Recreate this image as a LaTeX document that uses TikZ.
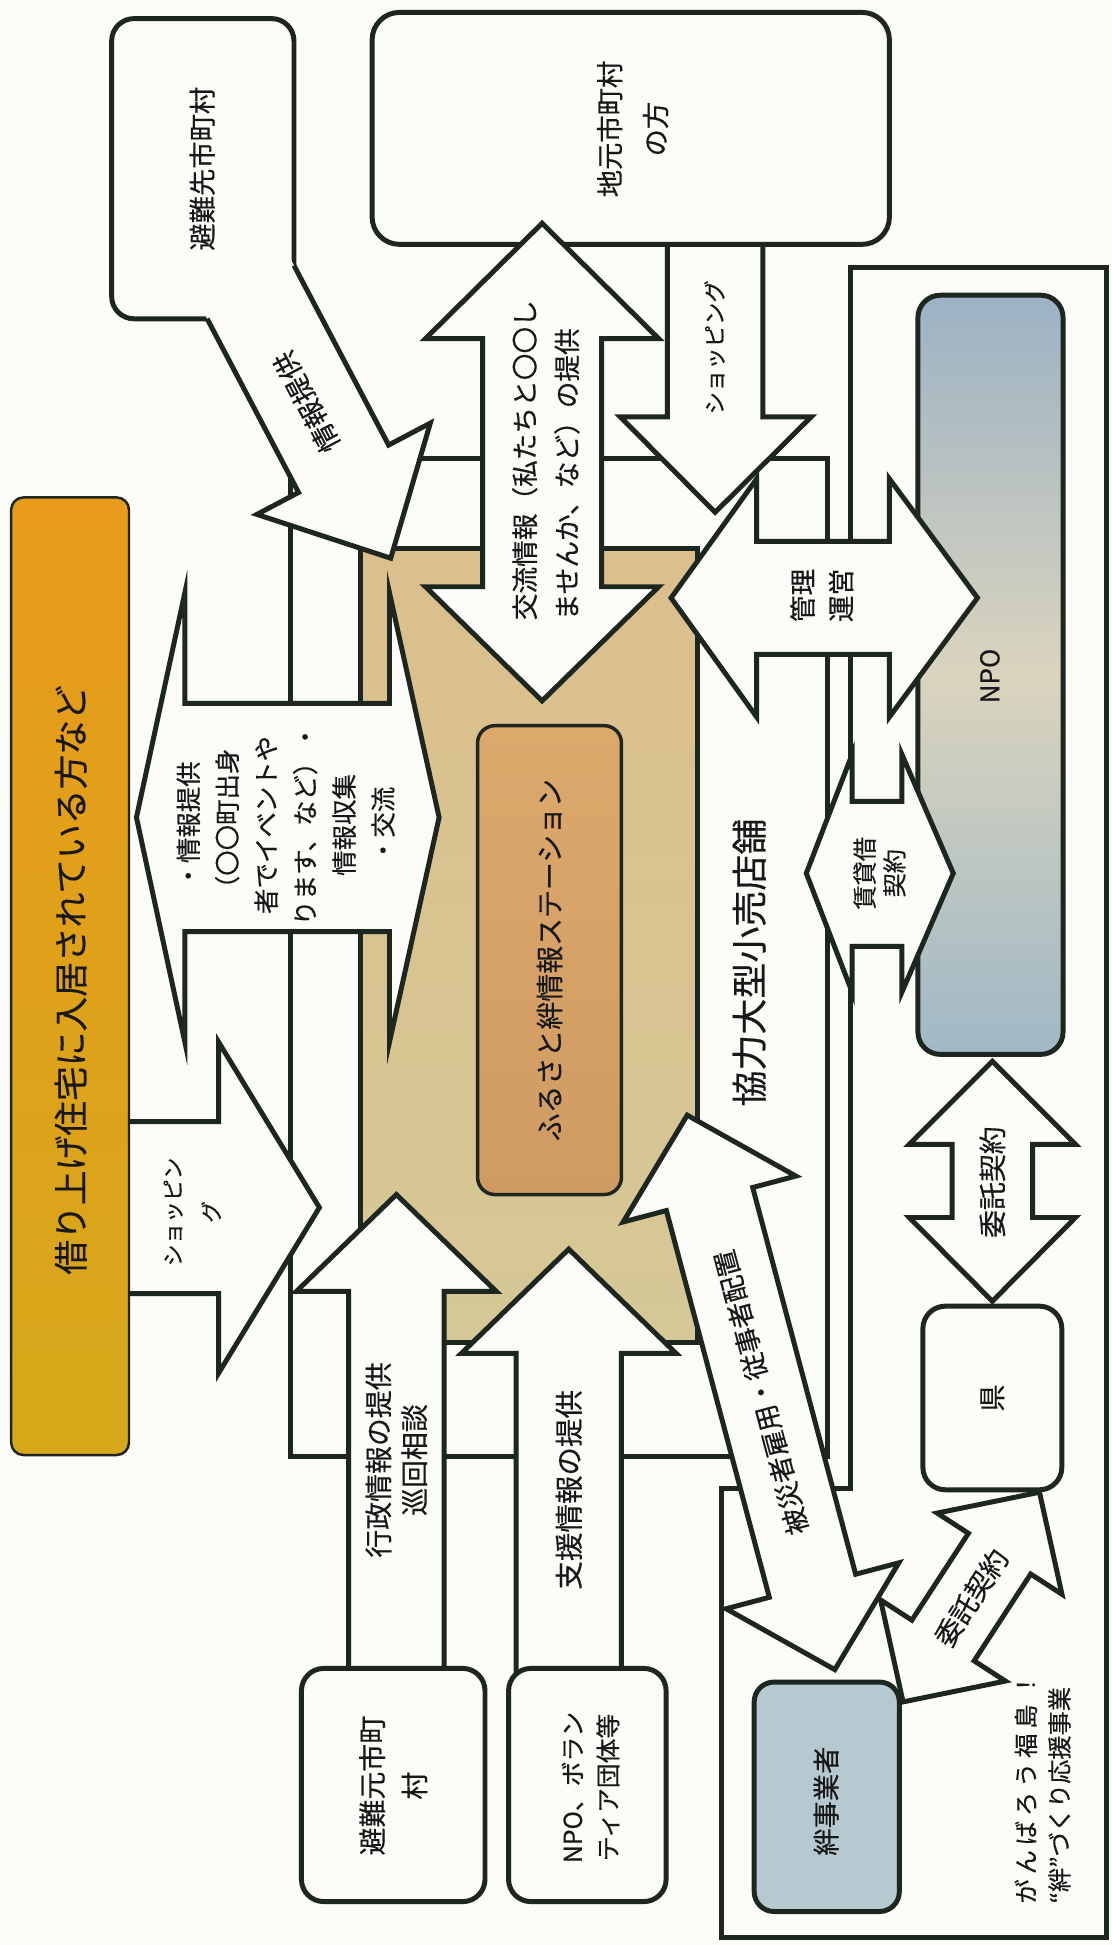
\documentclass[tikz,border=0pt]{standalone}
\usepackage{fontspec}
\setmainfont{Noto Sans CJK JP}[FakeBold=0.4]
\definecolor{lc}{RGB}{30,38,32}
\definecolor{bg}{RGB}{251,251,248}
\definecolor{txt}{RGB}{24,24,24}
\definecolor{orTop}{RGB}{232,154,26}
\definecolor{orBot}{RGB}{214,168,26}
\definecolor{tanTop}{RGB}{219,191,140}
\definecolor{tanBot}{RGB}{213,200,150}
\definecolor{inTop}{RGB}{221,168,108}
\definecolor{inBot}{RGB}{207,155,98}
\definecolor{npoTop}{RGB}{156,178,196}
\definecolor{npoMid}{RGB}{218,212,190}
\definecolor{npoBot}{RGB}{160,184,198}
\definecolor{kzn}{RGB}{182,200,208}
\newcommand\jfs[2]{\fontsize{#1pt}{#2pt}\selectfont}
\begin{document}
\begin{tikzpicture}[x=1pt,y=-1pt,
  shp/.style={fill=bg, draw=lc, line width=4pt, line join=miter},
  edgeline/.style={draw=lc, line width=4pt, line join=miter},
  bx/.style={fill=bg, draw=lc, line width=4pt, rounded corners=18pt},
  lbl/.style={text=txt, inner sep=0pt, align=center},
  rv/.style={rotate=90}]
\useasboundingbox (0,0) rectangle (896,1568);
\fill[bg] (0,0) rectangle (896,1568);

% frame of the support project
\draw[shp] (686,216) -- (892,216) -- (892,1562) -- (582,1562) -- (582,1200) -- (686,1200) -- cycle;
% store
\draw[shp] (234,370) rectangle (667,1174);
% station area
\draw[draw=lc, line width=4pt, top color=tanTop, bottom color=tanBot] (291,442) rectangle (562,1082);
% station inner box
\draw[draw=lc, line width=2.8pt, rounded corners=14pt, top color=inTop, bottom color=inBot] (385,585) rectangle (501,963);

% shopping arrow from residents
\draw[shp] (80,904.2) -- (176.2,904.2) -- (176.2,840) -- (257.5,973.5) -- (176.2,1107) -- (176.2,1042.9) -- (80,1042.9) -- cycle;
% orange box
\draw[draw=lc, line width=2pt, rounded corners=10pt, top color=orTop, bottom color=orBot] (9,401) rectangle (104,1173);

% information double arrow
\draw[shp] (110,659) -- (149,478) -- (149,567) -- (314,567) -- (314,478) -- (354,659) -- (314,840) -- (314,751) -- (149,751) -- (149,840) -- cycle;

% administrative info arrow
\draw[shp] (281,1360) -- (281,1041) -- (239,1041) -- (319.5,963) -- (400,1041) -- (358,1041) -- (358,1360) -- cycle;
% support info arrow
\draw[shp] (416,1360) -- (416,1091) -- (372,1091) -- (458.5,1007) -- (545,1091) -- (501,1091) -- (501,1360) -- cycle;

% bottom boxes
\draw[bx] (243,1345) rectangle (391,1533);
\draw[bx] (410,1345) rectangle (537,1533);

% shopping arrow from local residents
\draw[shp] (538,150) -- (538,336) -- (500,336) -- (576.5,413) -- (654,336) -- (615,336) -- (615,150) -- cycle;
% local residents box
\draw[bx, rounded corners=22pt] (300,10) rectangle (717,197);
% exchange info double arrow
\draw[shp] (437,180) -- (531,273) -- (485,273) -- (485,473) -- (531,473) -- (437,565) -- (343,473) -- (389,473) -- (389,273) -- (343,273) -- cycle;

% evacuation destination box
\draw[bx] (90,15) rectangle (237,257);
% diagonal info arrow
\fill[bg] (163.3,249.9) -- (167,257) -- (240.7,397.0) -- (207.1,414.7) -- (315,450) -- (346.9,341.1) -- (313.3,358.8) -- (237,214) -- (233.3,206.9) -- cycle;
\draw[edgeline] (167,257) -- (240.7,397.0) -- (207.1,414.7) -- (315,450) -- (346.9,341.1) -- (313.3,358.8) -- (237,214);

% NPO, prefecture, kizuna boxes
\draw[draw=lc, line width=4pt, rounded corners=18pt, top color=npoTop, bottom color=npoBot, middle color=npoMid] (740,238) rectangle (857,850);
\draw[bx] (744,1053) rectangle (856,1201);
\draw[draw=lc, line width=4pt, rounded corners=16pt, fill=kzn] (608,1356) rectangle (725,1541);

% management double arrow
\draw[shp] (541,482) -- (610,386) -- (610,436.5) -- (717,436.5) -- (717,386) -- (788,482) -- (717,578) -- (717,527.5) -- (610,527.5) -- (610,578) -- cycle;
% lease double arrow
\draw[shp] (650,704) -- (687,608) -- (687,646) -- (727,646) -- (727,608) -- (768.5,704) -- (727,800) -- (727,763) -- (687,763) -- (687,800) -- cycle;
% commission double arrow (vertical)
\draw[shp] (800,855.5) -- (867,922.5) -- (832.5,922.5) -- (832.5,981.5) -- (867,981.5) -- (800,1049) -- (733,981.5) -- (767.5,981.5) -- (767.5,922.5) -- (733,922.5) -- cycle;
% employment double arrow
\draw[shp] (554,899) -- (641.6,948.1) -- (606.8,957.3) -- (689.8,1269.1) -- (724.6,1259.9) -- (673,1346) -- (585.4,1296.9) -- (620.2,1287.7) -- (537.2,975.9) -- (502.4,985.1) -- cycle;
% commission double arrow (diagonal)
\draw[shp] (728,1372) -- (810.5,1355.2) -- (785.3,1338.9) -- (830.9,1268.9) -- (856.1,1285.2) -- (838,1203) -- (755.5,1219.8) -- (780.7,1236.1) -- (735.1,1306.1) -- (709.9,1289.8) -- cycle;

% texts
\node[lbl, rv, font=\jfs{28}{34}] (title) at (57,790) {借り上げ住宅に入居されている方など};
\node[lbl, rv, font=\jfs{22}{26}] (hinansaki) at (163,136) {避難先市町村};
\node[lbl, rv, font=\jfs{22}{37}] (jimoto) at (510,104) {地元市町村\\の方};
\node[lbl, rv, align=left, font=\jfs{21.5}{34}] (koryu) at (440,371) {交流情報（私たちと〇〇し\\ませんか、など）の提供};
\node[lbl, rv, font=\jfs{18}{22}] (shop2) at (576,280) {ショッピング};
\node[lbl, rotate=117.8, font=\jfs{22}{26}] (joho1) at (247,324) {情報提供};
\node[lbl, rv, font=\jfs{20.5}{31.4}] (joho2) at (230.3,665) {・情報提供\\（〇〇町出身\\者でイベントや\\ります、など）・\\情報収集\\・交流};
\node[lbl, rv, font=\jfs{17.5}{31}] (shop1) at (155,977) {ショッピン\\グ};
\node[lbl, rv, font=\jfs{22.5}{29}] (gyosei) at (319.5,1177) {行政情報の提供\\巡回相談};
\node[lbl, rv, font=\jfs{23}{27}] (shien) at (458.5,1201) {支援情報の提供};
\node[lbl, rv, font=\jfs{22.5}{34}] (hinanmoto) at (317,1439.5) {避難元市町\\村};
\node[lbl, rv, font=\jfs{20}{28.5}] (npodan) at (476,1441) {NPO、ボラン\\ティア団体等};
\node[lbl, rv, font=\jfs{29}{33}] (kyoryoku) at (604,776) {協力大型小売店舗};
\node[lbl, rv, font=\jfs{22.5}{27}] (station) at (443,774) {ふるさと絆情報ステーション};
\node[lbl, rv, font=\jfs{21.5}{31}] (kanri) at (662.5,480) {管理\\運営};
\node[lbl, rv, font=\jfs{21}{25}] (npo) at (798,545) {NPO};
\node[lbl, rv, font=\jfs{19.5}{24}] (chintai) at (709,704) {賃貸借\\契約};
\node[lbl, rv, font=\jfs{22.5}{27}] (itaku1) at (800,953) {委託契約};
\node[lbl, rv, font=\jfs{22}{26}] (ken) at (800,1127) {県};
\node[lbl, rotate=104.9, font=\jfs{21.5}{26}] (hisai) at (613.5,1122.5) {被災者雇用・従事者配置};
\node[lbl, rotate=56.9, font=\jfs{22}{26}] (itaku2) at (783,1288) {委託契約};
\node[lbl, rv, font=\jfs{22}{26}] (kizuna) at (666,1452) {絆事業者};
\node[lbl, rv, align=left, font=\jfs{19.5}{27}] (ganbaro) at (840.5,1441.5) {が\kern4pt ん\kern4pt ば\kern4pt ろ\kern4pt う\kern4pt 福\kern4pt 島\kern6pt ！\\“絆”づくり応援事業};
\end{tikzpicture}
\end{document}
